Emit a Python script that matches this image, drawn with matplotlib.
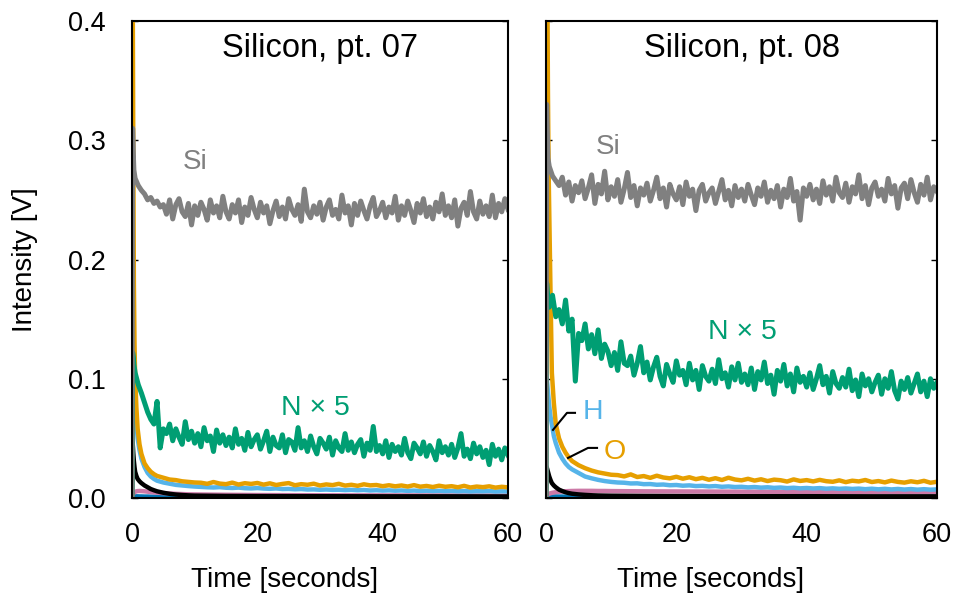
import numpy as np
import matplotlib.pyplot as plt

plt.rcParams['font.family'] = ['Liberation Sans', 'DejaVu Sans']

# time grids [s]
t_fast = np.array([0, 0.1, 0.2, 0.3] + list(np.arange(0.5, 60.01, 0.5)))
t_low = [0, 0.1, 0.2, 0.3, 0.4, 0.5, 0.7, 0.9, 1.2, 1.5, 2, 2.5, 3, 3.5, 4,
         5, 6, 7, 8, 9, 10, 15, 20, 30, 40, 50, 60]
t_decay = t_low[:21] + list(range(11, 61))

# ---- Silicon, pt. 07 (values in mV) ----
si07 = [0, 310, 290, 275,
        268, 262, 258, 255, 250, 252, 247, 249, 244, 246,
        238, 250, 234, 246, 251, 240, 236, 247, 229, 245,
        237, 248, 242, 233, 250, 239, 245, 235, 253, 240,
        234, 246, 239, 250, 231, 244, 237, 252, 242, 235,
        248, 239, 245, 230, 241, 249, 236, 244, 234, 251,
        242, 237, 246, 232, 259, 240, 235, 245, 238, 248,
        233, 244, 250, 237, 242, 234, 254, 239, 245, 229,
        247, 237, 249, 241, 234, 245, 252, 236, 241, 248,
        235, 244, 239, 253, 233, 245, 237, 249, 241, 231,
        247, 239, 251, 236, 244, 234, 248, 240, 255, 237,
        245, 235, 250, 228, 243, 248, 237, 257, 240, 234,
        249, 238, 245, 236, 254, 235, 247, 240, 251, 242]
n07 = [0, 122, 118, 112,
       105, 95, 88, 80, 72, 66, 62, 81, 42, 58,
       54, 62, 48, 58, 51, 45, 64, 49, 56, 46,
       54, 43, 59, 48, 52, 39, 57, 46, 53, 44,
       51, 42, 58, 45, 50, 40, 55, 43, 49, 53,
       41, 48, 56, 39, 51, 44, 42, 53, 38, 49,
       47, 40, 59, 42, 48, 39, 52, 43, 37, 50,
       46, 41, 51, 36, 48, 42, 39, 54, 40, 47,
       38, 45, 49, 35, 46, 40, 60, 39, 44, 37,
       48, 34, 45, 39, 43, 36, 50, 38, 33, 46,
       42, 37, 47, 35, 44, 39, 32, 48, 38, 43,
       36, 45, 34, 42, 54, 35, 41, 33, 46, 37,
       43, 34, 40, 28, 45, 35, 41, 32, 42, 36]
o07 = [0, 450, 300, 180, 130, 102, 76, 58, 45, 37, 29, 25, 22, 20, 18.5,
       17, 15.5, 15, 14, 13.5, 13,
       12.8, 11.9, 13.4, 12.1, 11.6, 12.9, 11.3, 12.4, 11.8, 12.6,
       11.2, 12.3, 10.9, 11.8, 12.5, 10.7, 11.6, 11.1, 12.0, 10.5,
       11.4, 10.8, 11.9, 10.4, 11.1, 10.2, 11.5, 10.6, 10.9, 9.9,
       10.7, 9.8, 10.5, 9.6, 10.8, 9.5, 10.1, 9.2, 10.3, 9.4,
       9.9, 9.0, 10.2, 8.8, 9.6, 9.1, 9.8, 8.7, 9.4, 8.9]
h07 = [0, 121, 112, 102, 92, 82, 63, 50, 40, 33, 26, 21, 18, 16, 14.5,
       13, 12, 11, 10.5, 10, 9.6,
       9.3, 9.0, 8.8, 9.1, 8.6, 8.4, 8.7, 8.2, 8.0, 8.3,
       7.9, 7.7, 8.0, 7.5, 7.6, 7.3, 7.5, 7.1, 7.2, 6.9,
       7.1, 6.8, 6.9, 6.6, 6.8, 6.5, 6.7, 6.3, 6.5, 6.2,
       6.4, 6.1, 6.3, 6.0, 6.2, 5.9, 6.1, 5.8, 6.0, 5.7,
       5.9, 5.6, 5.8, 5.5, 5.7, 5.6, 5.8, 5.4, 5.6, 5.5]
k07 = [0, 47, 38, 31, 26, 22, 18.5, 16, 14, 12.5, 10.5, 9, 7.5, 6.5, 5.6,
       4.4, 3.5, 2.9, 2.5, 2.2, 2.0, 1.7, 1.6, 1.5, 1.4, 1.4, 1.3]
p07 = [0, 2.5, 3.5, 4.2, 4.8, 5.2, 5.6, 5.8, 5.9, 5.8, 5.6, 5.3, 5.0, 4.7,
       4.5, 4.1, 3.8, 3.5, 3.3, 3.1, 3.0, 2.7, 2.5, 2.3, 2.2, 2.1, 2.0]
b07 = [0, 1.5, 1.6, 1.6, 1.5, 1.5, 1.4, 1.4, 1.3, 1.3, 1.2, 1.2, 1.1, 1.1,
       1.0, 1.0, 1.0, 0.9, 0.9, 0.9, 0.9, 0.8, 0.8, 0.8, 0.8, 0.8, 0.8]

# ---- Silicon, pt. 08 ----
si08 = [0, 330, 305, 285,
        278, 270, 266, 262, 269, 254, 265, 249, 262, 256,
        266, 251, 260, 271, 247, 263, 255, 274, 250, 261,
        253, 267, 248, 259, 273, 252, 262, 245, 260, 254,
        264, 249, 258, 269, 251, 260, 244, 263, 255, 250,
        261, 246, 265, 253, 259, 241, 258, 263, 249, 256,
        260, 247, 257, 267, 250, 258, 245, 262, 252, 259,
        249, 263, 254, 246, 260, 253, 265, 248, 258, 251,
        262, 244, 259, 252, 268, 249, 257, 233, 260, 253,
        263, 250, 259, 247, 266, 254, 261, 249, 269, 256,
        252, 264, 248, 261, 255, 271, 251, 262, 246, 260,
        265, 253, 259, 249, 268, 255, 262, 243, 260, 264,
        251, 267, 256, 248, 263, 254, 269, 250, 261, 257]
n08 = [0, 180, 172, 165,
       160, 170, 152, 158, 146, 166, 140, 150, 98, 138,
       132, 146, 125, 137, 121, 141, 117, 129, 123, 111,
       122, 107, 131, 113, 111, 119, 103, 113, 127, 105,
       114, 99, 110, 118, 102, 94, 112, 104, 97, 115,
       103, 107, 95, 113, 99, 107, 91, 111, 102, 98,
       108, 96, 116, 100, 105, 93, 110, 99, 113, 97,
       104, 95, 109, 91, 106, 99, 114, 96, 103, 87,
       107, 98, 112, 94, 104, 89, 109, 97, 102, 93,
       105, 91, 100, 111, 95, 102, 88, 106, 96, 92,
       101, 93, 108, 90, 99, 85, 104, 94, 100, 89,
       97, 103, 87, 100, 92, 106, 90, 83, 98, 91,
       101, 88, 96, 104, 89, 98, 85, 100, 92, 97]
o08 = [0, 450, 440, 340, 275, 240, 170, 105, 80, 62, 50, 43, 38, 34, 31,
       27.5, 25, 23, 21.5, 20.5, 19.5,
       19.2, 18.1, 19.8, 17.6, 18.4, 16.9, 18.7, 17.2, 16.5, 17.8,
       16.2, 17.4, 15.8, 16.9, 15.3, 16.6, 15.1, 17.0, 15.5, 14.8,
       16.1, 14.6, 15.7, 14.2, 15.4, 14.9, 13.8, 15.6, 14.3, 15.0,
       13.9, 15.2, 14.1, 13.6, 14.8, 13.3, 14.5, 13.9, 15.1, 13.4,
       14.2, 13.1, 14.6, 13.5, 12.9, 14.0, 13.2, 14.4, 12.8, 13.6]
h08 = [0, 100, 95, 89, 83, 77, 68, 62, 52, 46, 38, 33, 29, 26, 24,
       21, 18, 16.5, 15.2, 14.2, 13.5,
       13.0, 12.8, 12.2, 12.3, 11.6, 11.7, 11.1, 11.3, 10.7, 10.9,
       10.3, 10.6, 10.0, 10.2, 9.7, 10.0, 9.4, 9.7, 9.2, 9.4,
       8.9, 9.2, 8.7, 9.0, 8.5, 8.8, 8.3, 8.6, 8.1, 8.4,
       8.0, 8.3, 7.8, 8.1, 7.7, 8.0, 7.6, 7.9, 7.4, 7.8,
       7.3, 7.7, 7.2, 7.6, 7.1, 7.5, 7.0, 7.4, 7.0, 7.2]
k08 = [0, 26, 24, 22, 20, 18, 15, 12.5, 10.5, 9, 7, 5.8, 4.8, 4.1, 3.6,
       3.0, 2.6, 2.3, 2.1, 2.0, 1.9, 1.7, 1.6, 1.5, 1.5, 1.4, 1.4]
p08 = [0, 2.0, 2.5, 3.0, 3.3, 3.6, 4.0, 4.3, 4.6, 4.9, 5.2, 5.5, 5.7, 5.8,
       5.9, 6.0, 6.0, 6.0, 5.9, 5.9, 5.8, 5.6, 5.5, 5.3, 5.2, 5.1, 5.0]
b08 = [0, 1.4, 1.5, 1.5, 1.5, 1.4, 1.4, 1.3, 1.3, 1.3, 1.2, 1.2, 1.1, 1.1,
       1.0, 1.0, 1.0, 0.9, 0.9, 0.9, 0.9, 0.8, 0.8, 0.8, 0.8, 0.8, 0.8]

c_si, c_n, c_o, c_h = '#808080', '#009E73', '#E69F00', '#56B4E9'
c_k, c_p, c_b = 'black', '#CC79A7', '#0072B2'

fig = plt.figure(figsize=(9.56, 6.01), dpi=100)
ax1 = fig.add_axes([132 / 956, 1 - 498 / 601, 376 / 956, 477 / 601])
ax2 = fig.add_axes([546 / 956, 1 - 498 / 601, 391 / 956, 477 / 601])

panels = [(ax1, si07, n07, o07, h07, k07, p07, b07, 'Silicon, pt. 07'),
          (ax2, si08, n08, o08, h08, k08, p08, b08, 'Silicon, pt. 08')]

for ax, si, n, o, h, k, p, b, title in panels:
    lw = 3.2
    ax.plot(t_low, np.array(b) / 1000, color=c_b, lw=lw)
    ax.plot(t_low, np.array(p) / 1000, color=c_p, lw=lw)
    ax.plot(t_low, np.array(k) / 1000, color=c_k, lw=lw)
    ax.plot(t_decay, np.array(h) / 1000, color=c_h, lw=lw)
    ax.plot(t_decay, np.array(o) / 1000, color=c_o, lw=lw)
    ax.plot(t_fast, np.array(n) / 1000, color=c_n, lw=3.6)
    ax.plot(t_fast, np.array(si) / 1000, color=c_si, lw=3.6)
    ax.set_xlim(0, 60)
    ax.set_ylim(0, 0.4)
    ax.set_xticks([0, 20, 40, 60])
    ax.set_yticks([0, 0.1, 0.2, 0.3, 0.4])
    ax.tick_params(axis='y', direction='in', length=4, width=1, left=True,
                   right=True, labelsize=19.5, pad=19)
    ax.tick_params(axis='x', length=0, labelsize=19.5, pad=17)
    for s in ax.spines.values():
        s.set_linewidth(1.5)
        s.set_zorder(3)
    ax.text(0.5, 0.943, title, transform=ax.transAxes, ha='center',
            va='center', fontsize=23.5)

ax1.set_yticklabels(['0.0', '0.1', '0.2', '0.3', '0.4'])
ax2.set_yticklabels([])

# curve labels
ax1.text(10, 0.282, 'Si', color=c_si, fontsize=20, ha='center', va='center')
ax1.text(29.2, 0.0756, 'N × 5', color=c_n, fontsize=20.5, ha='center', va='center')
ax2.text(9.5, 0.294, 'Si', color=c_si, fontsize=20, ha='center', va='center')
ax2.text(30.2, 0.139, 'N × 5', color=c_n, fontsize=20.5, ha='center', va='center')
ax2.text(7.2, 0.072, 'H', color=c_h, fontsize=20.5, ha='center', va='center')
ax2.text(10.6, 0.0387, 'O', color=c_o, fontsize=20.5, ha='center', va='center')
ax2.plot([4.45, 3.22, 1.07], [0.0714, 0.0714, 0.0571], color='black', lw=1.5)
ax2.plot([7.83, 6.45, 3.38], [0.042, 0.042, 0.0336], color='black', lw=1.5)

fig.text(25 / 956, 1 - 260 / 601, 'Intensity [V]', rotation=90, ha='center',
         va='center', fontsize=20)
fig.text(285 / 956, 1 - 580 / 601, 'Time [seconds]', ha='center', va='center',
         fontsize=20)
fig.text(711 / 956, 1 - 580 / 601, 'Time [seconds]', ha='center', va='center',
         fontsize=20)

fig.savefig('out.png', dpi=100)
